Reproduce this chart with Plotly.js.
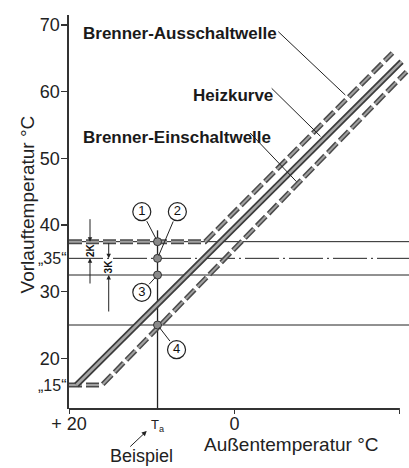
<!DOCTYPE html>
<html>
<head>
<meta charset="utf-8">
<script src="https://cdn.plot.ly/plotly-3.0.1.min.js"></script>
<style>html,body{margin:0;padding:0;background:#fff;}#chart{width:409px;height:468px;}</style>
</head>
<body>
<div id="chart"></div>
<script>
// ---- data ----
const yTickVals = [20, 30, 40, 50, 60, 70];
const yTickText = ['20', '30', '40', '50', '60', '70'];
const xTickVals = [20, 0, -20];
const xTickText = ['+ 20', '0', '\u221220'];
const Ta = 9.3;

const ausschaltX = [20, 3.55, -19.1];
const ausschaltY = [37.5, 37.5, 65.8];
const heizX = [19.1, -20.2];
const heizY = [16, 64.5];
const einschaltX = [20, 16, -20.8];
const einschaltY = [16, 16, 63];

const levelSolid = [37.5, 32.5, 25];
const levelDashDot = 35;
const levelLabels = ['\u201E35\u201C', '\u201E15\u201C'];
const levelLabelY = [35, 16];

const pointY = [37.5, 35, 32.5, 25];
const pointLabels = ['1', '2', '3', '4'];
const circleX = [11.2, 6.9, 11.2, 7.0];
const circleY = [42, 42, 29.9, 21.3];

const xRange = [20, -21.1];
const yRange = [12.4, 71.5];
const TaLineTop = 39.2;

// ---- traces ----
const F = 'Liberation Sans, Arial, Helvetica, sans-serif';
const traces = [];
function band(x, y, dash, wOuter, wInner, cOuter, cInner) {
  traces.push({x: x, y: y, mode: 'lines', hoverinfo: 'skip',
    line: {color: cOuter, width: wOuter, dash: dash}});
  traces.push({x: x, y: y, mode: 'lines', hoverinfo: 'skip',
    line: {color: cInner, width: wInner, dash: dash}});
}
band(ausschaltX, ausschaltY, '13px,4px', 5, 2, '#4a4a4a', '#a0a0a0');
band(einschaltX, einschaltY, '13px,4px', 5, 2, '#4a4a4a', '#a0a0a0');
band(heizX, heizY, 'solid', 6, 2.5, '#3c3c3c', '#a8a8a8');

// dots on the Ta line
traces.push({x: pointY.map(() => Ta), y: pointY, mode: 'markers', hoverinfo: 'skip',
  marker: {size: 8, color: '#8a8a8a', line: {color: '#333', width: 1}}});
// circled numbers
traces.push({x: circleX, y: circleY, mode: 'markers+text', hoverinfo: 'skip',
  text: pointLabels, textposition: 'middle center',
  textfont: {family: F, size: 13, color: '#111'},
  marker: {size: 18, color: '#fff', line: {color: '#222', width: 1.2}}});

// ---- shapes ----
const shapes = [];
levelSolid.forEach(v => shapes.push({type: 'line', xref: 'x', yref: 'y', layer: 'below',
  x0: xRange[0], x1: xRange[1], y0: v, y1: v, line: {color: '#222', width: 1}}));
shapes.push({type: 'line', xref: 'x', yref: 'y', layer: 'below',
  x0: xRange[0], x1: xRange[1], y0: levelDashDot, y1: levelDashDot,
  line: {color: '#222', width: 1, dash: '34px,4px,2px,4px'}});
shapes.push({type: 'line', xref: 'x', yref: 'y', layer: 'below',
  x0: Ta, x1: Ta, y0: yRange[0], y1: TaLineTop, line: {color: '#222', width: 1.3}});
// x axis line from +20 to -20
shapes.push({type: 'line', xref: 'x', yref: 'paper',
  x0: xTickVals[0], x1: xTickVals[xTickVals.length - 1], y0: 0, y1: 0,
  line: {color: '#333', width: 2}});
// leader lines
function seg(x0, y0, x1, y1) {
  shapes.push({type: 'line', xref: 'x', yref: 'y', x0: x0, y0: y0, x1: x1, y1: y1,
    line: {color: '#222', width: 1}});
}
seg(-5.3, 69.0, -13.4, 59.5);
seg(-4.5, 60.5, -10.4, 53.3);
seg(-1.9, 53.8, -7.5, 46.5);

// ---- annotations ----
const ann = [];
const bold = {family: F, size: 17, color: '#1a1a1a', weight: 'bold'};
function label(text, x, y, xanchor) {
  ann.push({text: '<b>' + text + '</b>', x: x, y: y, xref: 'x', yref: 'y',
    xanchor: xanchor || 'left', yanchor: 'middle', showarrow: false, font: bold});
}
label('Brenner-Ausschaltwelle', 18.5, 68.7);
label('Heizkurve', 5.3, 59.4);
label('Brenner-Einschaltwelle', 18.5, 53.2);
// circle leaders
pointY.forEach((v, i) => ann.push({text: '', x: Ta, y: v, ax: circleX[i], ay: circleY[i],
  xref: 'x', yref: 'y', axref: 'x', ayref: 'y', showarrow: true, arrowhead: 0,
  arrowwidth: 1, arrowcolor: '#222', startstandoff: 9, standoff: 3}));
// dimension arrows 2K / 3K
function dimArrow(x, yTail, yTip) {
  ann.push({text: '', x: x, y: yTip, ax: x, ay: yTail, xref: 'x', yref: 'y', axref: 'x', ayref: 'y',
    showarrow: true, arrowhead: 2, arrowsize: 0.9, arrowwidth: 1, arrowcolor: '#222'});
}
dimArrow(17.46, 41.1, 37.5);
dimArrow(17.46, 31.0, 35);
dimArrow(15.2, 37.5, 35);
dimArrow(15.2, 26.8, 32.5);
ann.push({text: '<b>2K</b>', x: 17.46, y: 36.25, xref: 'x', yref: 'y', showarrow: false, textangle: -90,
  font: {family: F, size: 10, color: '#111'}});
ann.push({text: '<b>3K</b>', x: 15.2, y: 33.75, xref: 'x', yref: 'y', showarrow: false, textangle: -90,
  font: {family: F, size: 10, color: '#111'}});
// quoted level labels
levelLabels.forEach((t, i) => ann.push({text: t, x: 0, xref: 'paper', y: levelLabelY[i], yref: 'y',
  xanchor: 'right', yanchor: 'middle', xshift: -1, showarrow: false,
  font: {family: F, size: 16, color: '#222'}}));
// Ta tick label
ann.push({text: 'T<sub>a</sub>', x: Ta, xref: 'x', y: 0, yref: 'paper', yanchor: 'middle',
  yshift: -16, showarrow: false, font: {family: F, size: 13, color: '#222'}});
// Beispiel + arrow
ann.push({text: 'Beispiel', x: 11.2, xref: 'x', y: 0, yref: 'paper', yanchor: 'middle',
  yshift: -47, showarrow: false, font: {family: F, size: 18, color: '#222'}});
ann.push({text: '', x: 10.6, xref: 'x', y: 0, yref: 'paper', yshift: -22, ax: -18, ay: 17,
  showarrow: true, arrowhead: 2, arrowsize: 1, arrowwidth: 1, arrowcolor: '#222'});
// axis titles
ann.push({text: 'Au\u00DFentemperatur \u00B0C', x: 0.653, xref: 'paper', y: 0, yref: 'paper',
  yanchor: 'middle', yshift: -35, showarrow: false, font: {family: F, size: 19, color: '#222'}});
ann.push({text: 'Vorlauftemperatur \u00B0C', x: 0, xref: 'paper', xshift: -54, y: 0.518, yref: 'paper',
  textangle: -90, showarrow: false, font: {family: F, size: 19, color: '#222'}});

const layout = {
  width: 409, height: 468,
  margin: {l: 69, r: 0, t: 15, b: 59},
  paper_bgcolor: '#fff', plot_bgcolor: '#fff',
  showlegend: false,
  xaxis: {range: xRange, autorange: false, tickvals: xTickVals, ticktext: xTickText,
    ticks: 'outside', ticklen: 4, tickcolor: '#333', tickwidth: 1, showgrid: false, zeroline: false,
    showline: false, ticklabelstandoff: -6, tickfont: {family: F, size: 18, color: '#222'}},
  yaxis: {range: yRange, autorange: false, tickvals: yTickVals, ticktext: yTickText,
    ticks: 'outside', ticklen: 6, tickcolor: '#333', tickwidth: 1.2, showgrid: false, zeroline: false,
    showline: true, linecolor: '#333', linewidth: 2.5, ticklabelstandoff: -3,
    tickfont: {family: F, size: 18, color: '#222'}},
  shapes: shapes,
  annotations: ann
};
Plotly.newPlot('chart', traces, layout, {displayModeBar: false, staticPlot: true});
</script>
</body>
</html>
